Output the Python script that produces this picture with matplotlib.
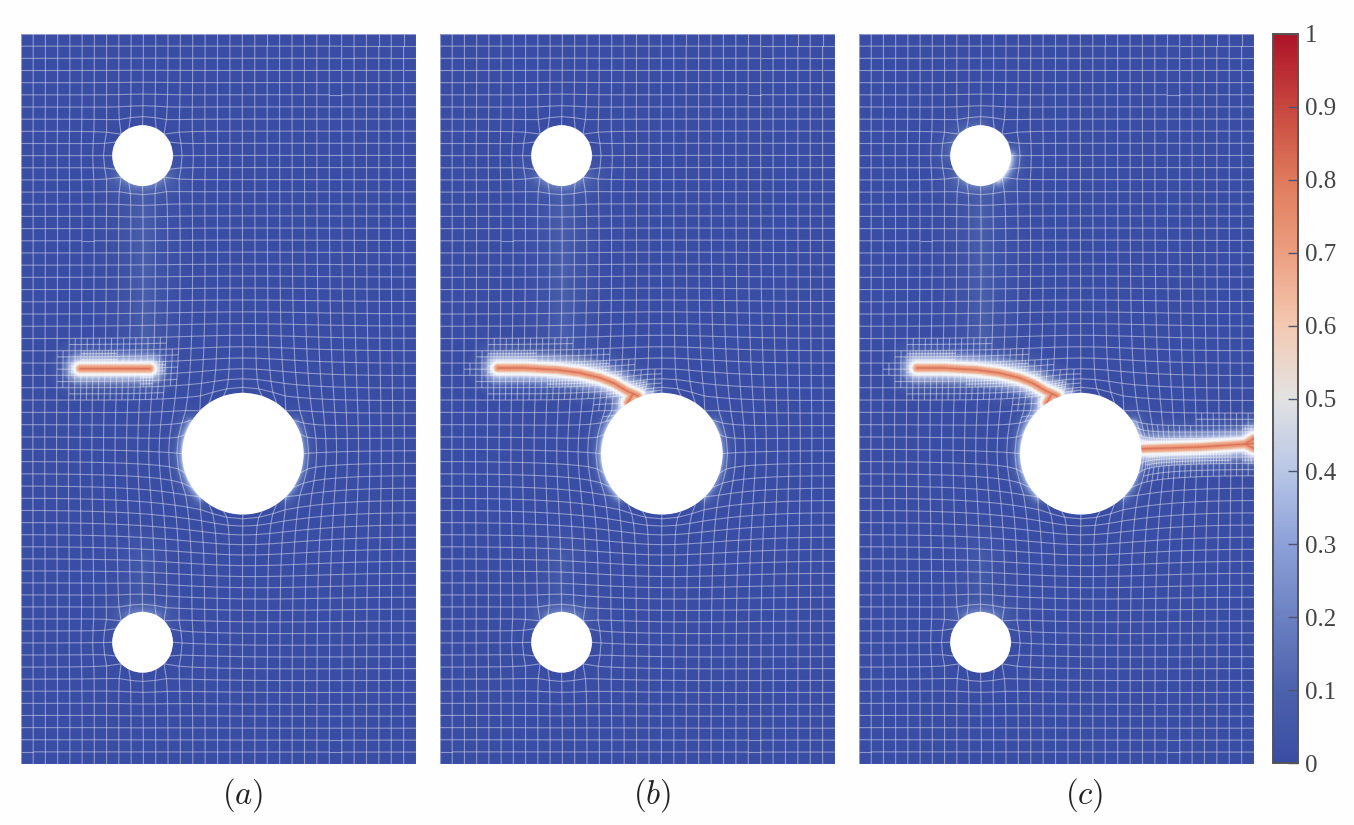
import numpy as np
import matplotlib
matplotlib.use("Agg")
import matplotlib.pyplot as plt
from matplotlib.collections import LineCollection
from matplotlib.colors import LinearSegmentedColormap
from matplotlib.patches import Circle

plt.rcParams["mathtext.fontset"] = "cm"
plt.rcParams["font.family"] = ["Liberation Serif", "DejaVu Serif"]

W, H = 1354, 825
plate_w, plate_h = 65.0, 120.0
panel_left = [21, 440, 859]
panel_labels = ["$(a)$", "$(b)$", "$(c)$"]
label_x = [243, 652, 1084]

# holes: x, y, radius (mm), half size of the node block taken out
hole_x = [20.0, 36.5, 20.0]
hole_y = [100.0, 51.0, 20.0]
hole_r = [5.0, 10.0, 5.0]
hole_m = [2, 3, 2]

# crack paths (mm)
crack_a_x = [9.7, 21.2]
crack_a_y = [65.0, 65.0]
crack_b_x = [9.5, 14.0, 19.2, 23.0, 26.3, 28.6, 30.8, 32.6]
crack_b_y = [65.1, 65.1, 64.8, 64.3, 63.5, 62.6, 61.3, 60.5]
fork_x = [31.8, 30.9]
fork_y = [60.9, 59.4]
crack_c_x = [46.4, 56.1, 63.8, 65.0]
crack_c_y = [51.8, 52.1, 52.6, 52.7]
flare_x = [63.6, 65.0, 65.0]
flare_y = [52.6, 53.5, 51.9]

# damage across a crack against distance from its centre line (mm)
prof_d = [0, 0.2, 0.55, 0.85, 1.3, 2.0, 3.5, 5.5]
prof_v = [0.84, 0.72, 0.65, 0.5, 0.3, 0.17, 0.06, 0]
halo_d = [0.6, 0.9, 1.6, 3.0]
halo_v = [0, 0.85, 0.35, 0]

cbar_ticks = [0, 0.1, 0.2, 0.3, 0.4, 0.5, 0.6, 0.7, 0.8, 0.9, 1]
cbar_labels = ["0", "0.1", "0.2", "0.3", "0.4", "0.5", "0.6", "0.7", "0.8", "0.9", "1"]
cmap_pos = [0, 0.1, 0.3, 0.4, 0.5, 0.6, 0.7, 0.8, 0.9, 1]
cmap_col = ["#3a4da4", "#4d62ad", "#8ca0d8", "#b8c6e6", "#e2e2e2",
            "#f3c9b2", "#ec9f80", "#df7a5c", "#c8473f", "#ad1428"]
cmap = LinearSegmentedColormap.from_list("cw", list(zip(cmap_pos, cmap_col)))


def arc(hole, a0, a1):
    a = np.radians(np.linspace(a0, a1, 9))
    return (hole_x[hole] + hole_r[hole] * np.cos(a),
            hole_y[hole] + hole_r[hole] * np.sin(a))


def seg_dist(X, Y, px, py):
    d = np.full(np.shape(X), 1e9)
    px, py = np.asarray(px, float), np.asarray(py, float)
    for i in range(len(px) - 1):
        dx, dy = px[i + 1] - px[i], py[i + 1] - py[i]
        t = ((X - px[i]) * dx + (Y - py[i]) * dy) / (dx * dx + dy * dy)
        t = np.clip(t, 0, 1)
        d = np.minimum(d, np.hypot(X - px[i] - t * dx, Y - py[i] - t * dy))
    return d


def build_mesh(iters=400):
    nx, ny = 32, 60
    mx, my = np.meshgrid(np.linspace(0, plate_w, nx + 1),
                         np.linspace(0, plate_h, ny + 1), indexing="ij")
    ok = np.ones(mx.shape, bool)
    pinned = np.zeros(mx.shape, bool)
    hx, hy = plate_w / nx, plate_h / ny
    I, J = np.meshgrid(np.arange(nx + 1), np.arange(ny + 1), indexing="ij")
    for cx, cy, r, m in zip(hole_x, hole_y, hole_r, hole_m):
        ic, jc = int(round(cx / hx)), int(round(cy / hy))
        vi, vj = (I - ic).astype(float), (J - jc).astype(float)
        k = np.maximum(np.abs(vi), np.abs(vj))
        ok &= k >= m
        ring = k == m
        n = np.hypot(vi[ring], vj[ring])
        mx[ring] = cx + r * vi[ring] / n
        my[ring] = cy + r * vj[ring] / n
        pinned |= ring
    # relax the free nodes so the lines bend smoothly round the holes
    free = ok & ~pinned
    free[[0, 0, -1, -1], [0, -1, 0, -1]] = False
    for _ in range(iters):
        ax_ = mx.copy()
        ay_ = my.copy()
        inner = free[1:-1, 1:-1]
        ax_[1:-1, 1:-1][inner] = ((mx[2:, 1:-1] + mx[:-2, 1:-1] + mx[1:-1, 2:] + mx[1:-1, :-2]) / 4)[inner]
        ay_[1:-1, 1:-1][inner] = ((my[2:, 1:-1] + my[:-2, 1:-1] + my[1:-1, 2:] + my[1:-1, :-2]) / 4)[inner]
        # edge nodes slide along the plate edge only
        ay_[0, 1:-1] = (my[0, 2:] + my[0, :-2] + 2 * my[1, 1:-1]) / 4
        ay_[-1, 1:-1] = (my[-1, 2:] + my[-1, :-2] + 2 * my[-2, 1:-1]) / 4
        ax_[1:-1, 0] = (mx[2:, 0] + mx[:-2, 0] + 2 * mx[1:-1, 1]) / 4
        ax_[1:-1, -1] = (mx[2:, -1] + mx[:-2, -1] + 2 * mx[1:-1, -2]) / 4
        mx, my = ax_, ay_
    return mx, my, ok


def mesh_segments(mx, my, ok, crack_paths):
    segs = []
    ni, nj = mx.shape
    for i in range(ni - 1):
        for j in range(nj - 1):
            if not (ok[i, j] and ok[i + 1, j] and ok[i, j + 1] and ok[i + 1, j + 1]):
                continue
            a = np.array([mx[i, j], my[i, j]])
            b = np.array([mx[i + 1, j], my[i + 1, j]])
            c = np.array([mx[i + 1, j + 1], my[i + 1, j + 1]])
            d = np.array([mx[i, j + 1], my[i, j + 1]])
            segs += [(a, b), (a, d)]
            if i == ni - 2:
                segs.append((b, c))
            if j == nj - 2:
                segs.append((d, c))
            mid = (a + b + c + d) / 4
            dist = min(seg_dist(mid[0], mid[1], p[0], p[1]) for p in crack_paths)
            level = 4 if dist < 2.0 else 2 if dist < 4.6 else 1
            for f in np.arange(1, level) / level:
                segs.append((a + f * (b - a), d + f * (c - d)))
                segs.append((a + f * (d - a), b + f * (c - b)))
    return segs


def field(X, Y, cracks, glows):
    dist = np.full(X.shape, 1e9)
    for px, py in cracks:
        dist = np.minimum(dist, seg_dist(X, Y, px, py))
    phi = np.interp(dist, prof_d, prof_v)
    for (px, py), amp, ell in glows:
        phi = np.maximum(phi, amp * np.exp(-seg_dist(X, Y, px, py) / ell))
    rgba = cmap(phi)
    white = np.interp(dist, halo_d, halo_v)[..., None]
    base = rgba.copy()
    base[..., :3] = rgba[..., :3] * (1 - white) + white
    # the crack core sits above the mesh lines
    core = rgba.copy()
    core[..., 3] = np.interp(dist, [0.45, 0.95], [1, 0])
    return base, core


crack_a = [(crack_a_x, crack_a_y)]
crack_b = [(crack_b_x, crack_b_y), (fork_x, fork_y)]
crack_c = crack_b + [(crack_c_x, crack_c_y), (flare_x[:2], flare_y[:2]), (flare_x[::2], flare_y[::2])]
base_glows = [
    (arc(1, 150, 225), 0.42, 0.8),
    (arc(1, -45, 30), 0.3, 0.8),
    (arc(0, 225, 315), 0.2, 1.6),
    (arc(2, 60, 120), 0.2, 1.6),
    (([20.0, 20.5], [94.0, 68.0]), 0.09, 3.0),
    (([20.0, 20.0], [25.0, 34.0]), 0.07, 2.6),
]
glows_a = base_glows
glows_b = base_glows + [(arc(1, 100, 160), 0.42, 0.9)]
glows_c = glows_b + [(arc(0, -55, 0), 0.5, 0.85),
                     (arc(0, 90, 180), 0.14, 1.4),
                     (arc(1, 0, 30), 0.42, 0.9)]

fig = plt.figure(figsize=(W / 100, H / 100), dpi=100, facecolor="#fefefe")
gx = np.linspace(0, plate_w, 651)
gy = np.linspace(0, plate_h, 1201)
X, Y = np.meshgrid(gx, gy)
mx, my, ok = build_mesh()

panels = [(crack_a, glows_a), (crack_b, glows_b), (crack_c, glows_c)]
for left, (cracks, glows), lab, lx in zip(panel_left, panels, panel_labels, label_x):
    ax = fig.add_axes([left / W, (H - 764) / H, 395 / W, 730 / H])
    base, core = field(X, Y, cracks, glows)
    ax.imshow(base, origin="lower", extent=(0, plate_w, 0, plate_h),
              interpolation="bilinear", aspect="auto", zorder=1)
    ax.add_collection(LineCollection(mesh_segments(mx, my, ok, cracks), zorder=2,
                                     colors="white", linewidths=0.8, alpha=0.42))
    ax.imshow(core, origin="lower", extent=(0, plate_w, 0, plate_h),
              interpolation="bilinear", aspect="auto", zorder=3)
    for cx, cy, r in zip(hole_x, hole_y, hole_r):
        ax.add_patch(Circle((cx, cy), r, fc="white", ec="none", zorder=4))
    ax.set_xlim(0, plate_w)
    ax.set_ylim(0, plate_h)
    ax.axis("off")
    fig.text(lx / W, 1 - 795 / H, lab, fontsize=23.5, ha="center", va="center", color="#222222")

cax = fig.add_axes([1273 / W, (H - 763) / H, 25 / W, 729 / H])
sm = plt.cm.ScalarMappable(cmap=cmap, norm=plt.Normalize(0, 1))
cb = fig.colorbar(sm, cax=cax, ticks=cbar_ticks)
cb.ax.set_yticklabels(cbar_labels)
cb.ax.tick_params(direction="in", length=7, width=1.0, color="#4a5570",
                  labelsize=18, labelcolor="#444444", pad=5)
cb.outline.set_edgecolor("#555555")
cb.outline.set_linewidth(1.4)

fig.savefig("out.png", dpi=100, facecolor=fig.get_facecolor())
